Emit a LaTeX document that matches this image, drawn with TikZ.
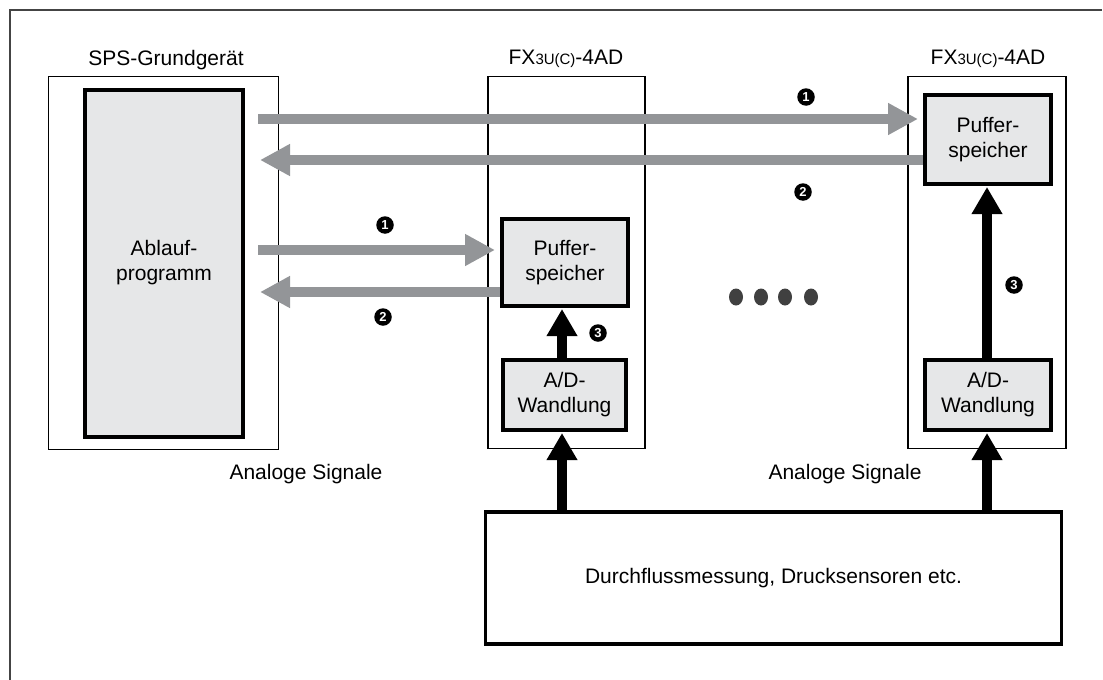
\documentclass[tikz,border=0pt]{standalone}
\usepackage{fontspec}
\setmainfont{Liberation Sans}
\usetikzlibrary{arrows.meta,shapes.geometric}
\definecolor{arrowgray}{HTML}{939598}
\definecolor{boxgray}{HTML}{E6E7E8}
\definecolor{framegray}{HTML}{444444}
\definecolor{dotgray}{HTML}{404040}
\tikzset{
  lbl/.style={font=\fontsize{21}{25}\selectfont, align=center, inner sep=0pt},
  grayarrow/.style={line width=10.5pt, draw=arrowgray, -{Triangle[length=30pt,width=30pt]}},
  blackarrow/.style={line width=10pt, draw=black, -{Triangle[length=27pt,width=29pt]}},
  modbox/.style={draw=black, line width=1.6pt, inner sep=0pt},
  inbox/.style={draw=black, line width=4pt, fill=boxgray, inner sep=0pt, font=\fontsize{21}{25}\selectfont, align=center},
  numc/.style={circle, fill=black, text=white, inner sep=0pt, minimum size=17.5pt, font=\bfseries\fontsize{13}{13}\selectfont},
  dotc/.style={ellipse, fill=dotgray, inner sep=0pt, minimum width=14pt, minimum height=17pt},
}
\newcommand{\fxtitle}{FX{\fontsize{15}{15}\selectfont 3U(C)}-4AD}
\begin{document}
\begin{tikzpicture}[x=1pt,y=-1pt]
\useasboundingbox (0,0) rectangle (1103,680);
% outer frame
\draw[framegray, line width=1.5pt] (10,680) -- (10,10) -- (1102,10);

% SPS
\node[lbl, anchor=base] (spst) at (166,65) {SPS-Grundgerät};
\node[modbox, minimum width=230pt, minimum height=373pt] (sps) at (163.5,263) {};
\node[inbox, minimum width=158pt, minimum height=347pt] (prog) at (164,263) {Ablauf-\\programm};

% Module 1
\node[lbl, anchor=base] (m1t) at (566,64) {\fxtitle};
\node[modbox, minimum width=157pt, minimum height=372pt] (m1) at (566.5,262.5) {};
\node[inbox, minimum width=126pt, minimum height=87pt] (puf1) at (565,262.5) {Puffer-\\speicher};
\node[inbox, minimum width=123pt, minimum height=70pt] (ad1) at (564.5,395) {A/D-\\Wandlung};

% Module 2
\node[lbl, anchor=base] (m2t) at (988,64) {\fxtitle};
\node[modbox, minimum width=158pt, minimum height=372pt] (m2) at (987,262.5) {};
\node[inbox, minimum width=126pt, minimum height=89pt] (puf2) at (988,139.5) {Puffer-\\speicher};
\node[inbox, minimum width=126pt, minimum height=70pt] (ad2) at (988,395) {A/D-\\Wandlung};

% bottom box
\node[inbox, fill=white, line width=3.5pt, minimum width=576pt, minimum height=132pt] (sens) at (773.5,578) {Durchflussmessung, Drucksensoren etc.};

% gray arrows, top level
\coordinate (t1s) at (258,119);
\coordinate (t2e) at (260,160);
\draw[grayarrow, shorten >=5pt] (t1s) -- (t1s -| puf2.west);
\draw[grayarrow] (puf2.west |- t2e) -- (t2e);
\node[numc] (c1a) at (806,97) {1};
\node[numc] (c2a) at (803,192) {2};

% gray arrows, module 1 level
\coordinate (b1s) at (258,250);
\coordinate (b2e) at (260,292);
\draw[grayarrow, shorten >=5pt] (b1s) -- (b1s -| puf1.west);
\draw[grayarrow] (puf1.west |- b2e) -- (b2e);
\node[numc] (c1b) at (385,225) {1};
\node[numc] (c2b) at (383,317) {2};

% black arrows inside modules
\draw[blackarrow, shorten >=1pt] (ad1.north -| 562,0) -- (puf1.south -| 562,0);
\node[numc] (c3a) at (598,333) {3};
\draw[blackarrow, shorten >=1pt] (ad2.north -| 987,0) -- (puf2.south -| 987,0);
\node[numc] (c3b) at (1014,285) {3};

% analog signal arrows
\draw[blackarrow, shorten >=1pt] (sens.north -| 562,0) -- (ad1.south -| 562,0);
\draw[blackarrow, shorten >=1pt] (sens.north -| 987,0) -- (ad2.south -| 987,0);
\node[lbl, anchor=base] (as1) at (306,479) {Analoge Signale};
\node[lbl, anchor=base] (as2) at (845,479) {Analoge Signale};

% dots
\node[dotc] (d1) at (736,297) {};
\node[dotc] (d2) at (761,297) {};
\node[dotc] (d3) at (785,297) {};
\node[dotc] (d4) at (811,297) {};
\end{tikzpicture}
\end{document}
